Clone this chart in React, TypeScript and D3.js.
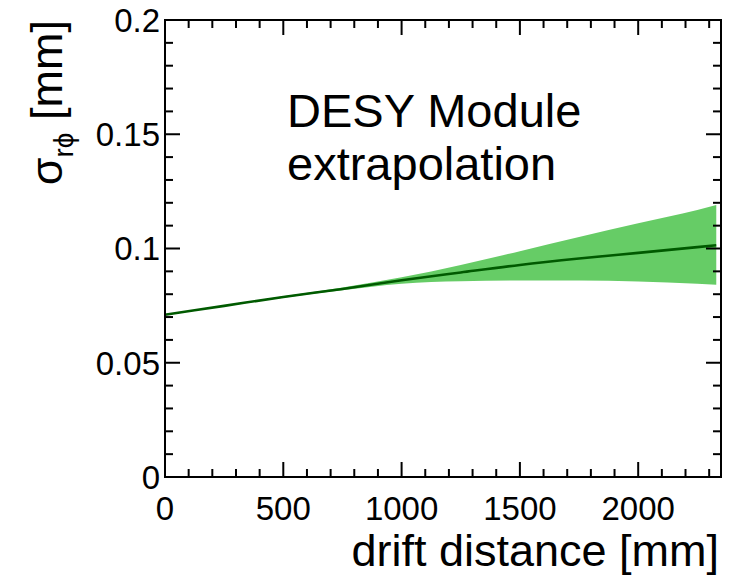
import React from "react";
import * as d3 from "d3";

const distance = [0, 250, 500, 750, 1000, 1250, 1500, 1750, 2000, 2250, 2330];
const sigmaCenter = [0.071, 0.0749, 0.0788, 0.0823, 0.0861, 0.0895, 0.0928, 0.0956, 0.0981, 0.1006, 0.1014];
const sigmaUpper = [0.0712, 0.0751, 0.0791, 0.0829, 0.0874, 0.0928, 0.0988, 0.105, 0.111, 0.1168, 0.119];
const sigmaLower = [0.0708, 0.0747, 0.0785, 0.0817, 0.0846, 0.0857, 0.086, 0.086, 0.0856, 0.0846, 0.0841];
const xTicks = [0, 500, 1000, 1500, 2000];
const yTicks = [0, 0.05, 0.1, 0.15, 0.2];
const yTickLabels = ["0", "0.05", "0.1", "0.15", "0.2"];
const annotation = ["DESY Module", "extrapolation"];

const W = 731;
const H = 577;
const L = 165, R = 721, T = 20, B = 477;
const FONT = "'Liberation Sans', Arial, Helvetica, sans-serif";

export default function App() {
  const x = d3.scaleLinear().domain([0, 2350]).range([L, R]);
  const y = d3.scaleLinear().domain([0, 0.2]).range([B, T]);
  const pts = distance.map((d, i) => ({ d, c: sigmaCenter[i], u: sigmaUpper[i], l: sigmaLower[i] }));
  const area = d3
    .area<any>()
    .x((p) => x(p.d))
    .y0((p) => y(p.l))
    .y1((p) => y(p.u))
    .curve(d3.curveMonotoneX);
  const line = d3
    .line<any>()
    .x((p) => x(p.d))
    .y((p) => y(p.c))
    .curve(d3.curveMonotoneX);

  const xMinor = d3.range(0, 2351, 100);
  const yMinor = d3.range(0, 0.2001, 0.01);

  return (
    <svg width={W} height={H} style={{ position: "absolute", left: 0, top: 0, background: "#fff" }}>
      <rect width={W} height={H} fill="#fff" />
      <path d={area(pts) || ""} fill="#66cc66" />
      <path d={line(pts) || ""} fill="none" stroke="#005a00" strokeWidth={2.6} />
      <g stroke="#000" strokeWidth={2}>
        {xMinor.map((v) => {
          const major = v % 500 === 0;
          const len = major ? 15 : 8;
          return (
            <g key={"x" + v}>
              <line x1={x(v)} x2={x(v)} y1={B} y2={B - len} />
              <line x1={x(v)} x2={x(v)} y1={T} y2={T + len} />
            </g>
          );
        })}
        {yMinor.map((v, i) => {
          const major = i % 5 === 0;
          const len = major ? 15 : 8;
          return (
            <g key={"y" + i}>
              <line x1={L} x2={L + len} y1={y(v)} y2={y(v)} />
              <line x1={R} x2={R - len} y1={y(v)} y2={y(v)} />
            </g>
          );
        })}
        <rect x={L} y={T} width={R - L} height={B - T} fill="none" />
      </g>
      <g fontFamily={FONT} fontSize={33} fill="#000">
        {yTicks.map((v, i) => (
          <text key={"yl" + i} x={L - 5} y={y(v)} dy="0.36em" textAnchor="end">
            {yTickLabels[i]}
          </text>
        ))}
        {xTicks.map((v) => (
          <text key={"xl" + v} x={x(v)} y={520} textAnchor="middle">
            {v}
          </text>
        ))}
      </g>
      <text x={R - 2} y={566} textAnchor="end" fontFamily={FONT} fontSize={45}>
        drift distance [mm]
      </text>
      <text transform="translate(62,20) rotate(-90)" textAnchor="end" fontFamily={FONT} fontSize={45}>
        σ
        <tspan fontSize={28} dy={11}>rϕ</tspan>
        <tspan dy={-11}> [mm]</tspan>
      </text>
      <g fontFamily={FONT} fontSize={47}>
        {annotation.map((t, i) => (
          <text key={t} x={287} y={127 + i * 53}>
            {t}
          </text>
        ))}
      </g>
    </svg>
  );
}
